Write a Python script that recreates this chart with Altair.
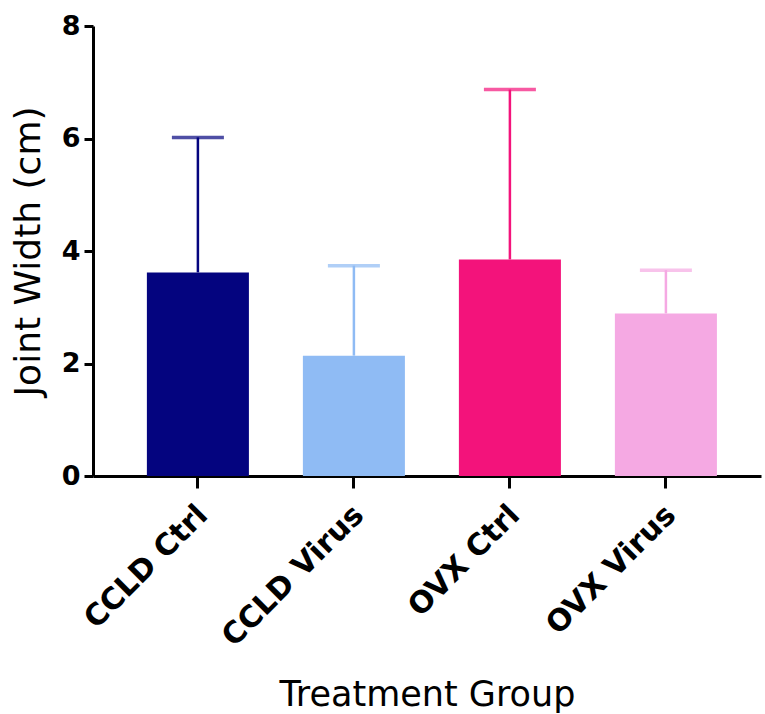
import altair as alt
import pandas as pd

groups = ["CCLD Ctrl", "CCLD Virus", "OVX Ctrl", "OVX Virus"]
means = [3.62, 2.14, 3.85, 2.89]
uppers = [6.02, 3.74, 6.87, 3.66]
colors = ["#04047f", "#8fbbf4", "#f3137b", "#f5a9e3"]

df = pd.DataFrame({"group": groups, "mean": means, "upper": uppers})

LFONT = "DejaVu Sans"

x = alt.X(
    "group:N",
    sort=groups,
    title="Treatment Group",
    scale=alt.Scale(paddingInner=0.346, paddingOuter=0.314, align=0.55),
    axis=alt.Axis(
        labelAngle=-45,
        labelAlign="right",
        labelBaseline="middle",
        labelFont=LFONT,
        labelFontSize=30,
        labelFontWeight="bold",
        labelColor="black",
        labelPadding=22,
        labelOffset=5,
        labelLimit=400,
        tickColor="black",
        tickWidth=3,
        tickSize=12,
        domainColor="black",
        domainWidth=3,
        titleFont=LFONT,
        titleFontSize=35,
        titleFontWeight="normal",
        titleColor="black",
        titlePadding=26,
    ),
)

color = alt.Color("group:N", sort=groups, scale=alt.Scale(domain=groups, range=colors), legend=None)

y_axis = alt.Axis(
    values=[0, 2, 4, 6, 8],
    format="d",
    grid=False,
    labelFont=LFONT,
    labelFontSize=27,
    labelFontWeight="bold",
    labelColor="black",
    labelPadding=4,
    tickColor="black",
    tickWidth=3,
    tickSize=9,
    domainColor="black",
    domainWidth=3,
    titleFont=LFONT,
    titleFontSize=36,
    titleFontWeight="normal",
    titleColor="black",
    titlePadding=14,
)

base = alt.Chart(df)

bars = base.mark_bar().encode(
    x=x,
    y=alt.Y("mean:Q", title="Joint Width (cm)", scale=alt.Scale(domain=[0, 8], nice=False), axis=y_axis),
    color=color,
)

stems = base.mark_rule(strokeWidth=2.5).encode(
    x=alt.X("group:N", sort=groups),
    y="mean:Q",
    y2="upper:Q",
    color=color,
)

caps = base.mark_tick(size=52, thickness=3.5).encode(
    x=alt.X("group:N", sort=groups),
    y="upper:Q",
    color=color,
)

chart = (
    alt.layer(stems, bars, caps)
    .properties(
        width=668,
        height=450,
        padding={"left": 10, "top": 12, "right": 2, "bottom": 5},
        background="white",
    )
    .configure_view(stroke="transparent", strokeWidth=0)
)

chart.save("out.html", embed_options={"renderer": "svg", "actions": False})
